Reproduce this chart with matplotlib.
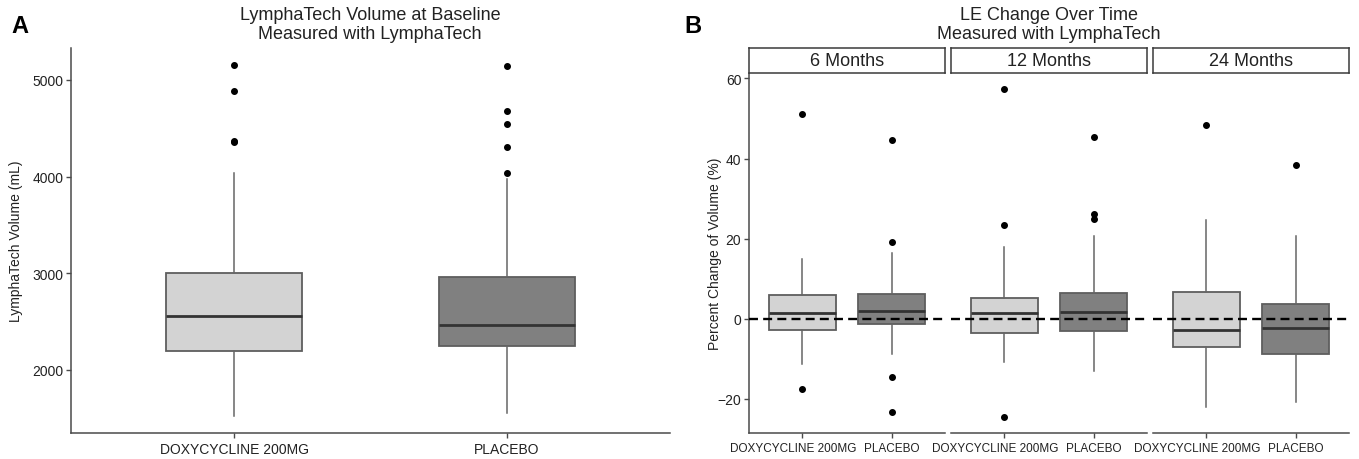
import matplotlib
matplotlib.use('Agg')
import matplotlib.pyplot as plt
import matplotlib.transforms as mtransforms

plt.rcParams['font.family'] = ['Liberation Sans', 'DejaVu Sans']

W, H = 1359, 460

groups = ['DOXYCYCLINE 200MG', 'PLACEBO']
fills = ['#d3d3d3', '#808080']

# Panel A: baseline volume (mL)
base_q1 = [2200, 2252]
base_med = [2559, 2465]
base_q3 = [3000, 2962]
base_lo = [1528, 1552]
base_hi = [4038, 3976]
base_out = [[5159, 4886, 4372, 4355], [5148, 4679, 4545, 4310, 4041]]

# Panel B: percent change per follow-up time
months = ['6 Months', '12 Months', '24 Months']
chg_q1 = [[-2.7, -1.4], [-3.5, -3.1], [-7.1, -8.75]]
chg_med = [[1.4, 1.9], [1.4, 1.7], [-2.75, -2.3]]
chg_q3 = [[6.0, 6.2], [5.2, 6.4], [6.7, 3.6]]
chg_lo = [[-11.25, -8.9], [-10.8, -13.1], [-22.1, -20.8]]
chg_hi = [[15.0, 16.5], [17.9, 20.6], [24.6, 20.6]]
chg_out = [
    [[51.1, -17.5], [44.75, 19.1, -14.5, -23.2]],
    [[57.4, 23.4, -24.6], [45.4, 26.25, 25.0]],
    [[48.4], [38.5]],
]

AXC = '#4a4a4a'


def px_axes(fig, l, t, r, b):
    return fig.add_axes([l / W, 1 - b / H, (r - l) / W, (b - t) / H])


def draw_boxes(ax, q1, med, q3, lo, hi, out, width):
    stats = []
    for i in range(len(groups)):
        stats.append(dict(q1=q1[i], med=med[i], q3=q3[i], whislo=lo[i],
                          whishi=hi[i], fliers=out[i]))
    art = ax.bxp(stats, positions=[1, 2], widths=width, patch_artist=True,
                 showcaps=False,
                 boxprops=dict(edgecolor='#5e5e5e', linewidth=1.3),
                 medianprops=dict(color='#333333', linewidth=2.0),
                 whiskerprops=dict(color='#666666', linewidth=1.1),
                 flierprops=dict(marker='o', markerfacecolor='black',
                                 markeredgecolor='black', markersize=4))
    for patch, c in zip(art['boxes'], fills):
        patch.set_facecolor(c)
    ax.set_xlim(0.4, 2.6)


def style(ax, left=True, xsize=10):
    for s in ['top', 'right']:
        ax.spines[s].set_visible(False)
    ax.spines['bottom'].set_color(AXC)
    ax.spines['left'].set_color(AXC)
    ax.spines['bottom'].set_linewidth(1.1)
    ax.spines['left'].set_linewidth(1.1)
    ax.tick_params(direction='out', length=3.5, width=1, color=AXC,
                   labelcolor='#222222', labelsize=10, pad=2)
    ax.tick_params(axis='x', labelsize=xsize, pad=3)
    if not left:
        ax.spines['left'].set_visible(False)
        ax.tick_params(axis='y', left=False, labelleft=False)


fig = plt.figure(figsize=(W / 100, H / 100), dpi=100)

# ---- Panel A
axA = px_axes(fig, 71, 49, 670, 434)
draw_boxes(axA, base_q1, base_med, base_q3, base_lo, base_hi, base_out, 0.5)
axA.set_ylim(1348, 5331)
axA.set_yticks([2000, 3000, 4000, 5000])
axA.set_xticks([1, 2])
axA.set_xticklabels(groups)
style(axA)

fig.text(370 / W, 1 - 20 / H, 'LymphaTech Volume at Baseline', ha='center',
         va='baseline', fontsize=13, color='#222222')
fig.text(370 / W, 1 - 39 / H, 'Measured with LymphaTech', ha='center',
         va='baseline', fontsize=13, color='#222222')
fig.text(16 / W, 1 - 241 / H, 'LymphaTech Volume (mL)', rotation=90,
         ha='center', va='center', fontsize=10, color='#222222')
fig.text(11 / W, 1 - 33 / H, 'A', fontsize=17, fontweight='bold',
         va='baseline', ha='left')

# ---- Panel B
# the long group label sits a bit left of its tick in the original
shift = mtransforms.ScaledTranslation(-9 / 100, 0, fig.dpi_scale_trans)
panels = [(749, 945), (951, 1147), (1153, 1349)]
for k, (l, r) in enumerate(panels):
    ax = px_axes(fig, l, 75, r, 434)
    draw_boxes(ax, chg_q1[k], chg_med[k], chg_q3[k], chg_lo[k], chg_hi[k],
               chg_out[k], 0.75)
    ax.axhline(0, color='black', linewidth=1.7, linestyle=(0, (3.8, 2.2)),
               zorder=5)
    ax.set_ylim(-28.5, 61.1)
    ax.set_yticks([-20, 0, 20, 40, 60])
    ax.set_xticks([1, 2])
    ax.set_xticklabels(groups)
    style(ax, left=(k == 0), xsize=8.5)
    lab = ax.get_xticklabels()[0]
    lab.set_transform(lab.get_transform() + shift)

    sx = px_axes(fig, l, 49, r, 74)
    sx.set_xticks([])
    sx.set_yticks([])
    for s in sx.spines.values():
        s.set_color('#3a3a3a')
        s.set_linewidth(1.1)
    sx.text(0.5, 0.5, months[k], ha='center', va='center', fontsize=13,
            color='#222222', transform=sx.transAxes)

fig.text(1049 / W, 1 - 20 / H, 'LE Change Over Time', ha='center',
         va='baseline', fontsize=13, color='#222222')
fig.text(1049 / W, 1 - 39 / H, 'Measured with LymphaTech', ha='center',
         va='baseline', fontsize=13, color='#222222')
fig.text(715 / W, 1 - 254 / H, 'Percent Change of Volume (%)', rotation=90,
         ha='center', va='center', fontsize=10, color='#222222')
fig.text(684 / W, 1 - 33 / H, 'B', fontsize=17, fontweight='bold',
         va='baseline', ha='left')

fig.savefig('out.png', dpi=100)
